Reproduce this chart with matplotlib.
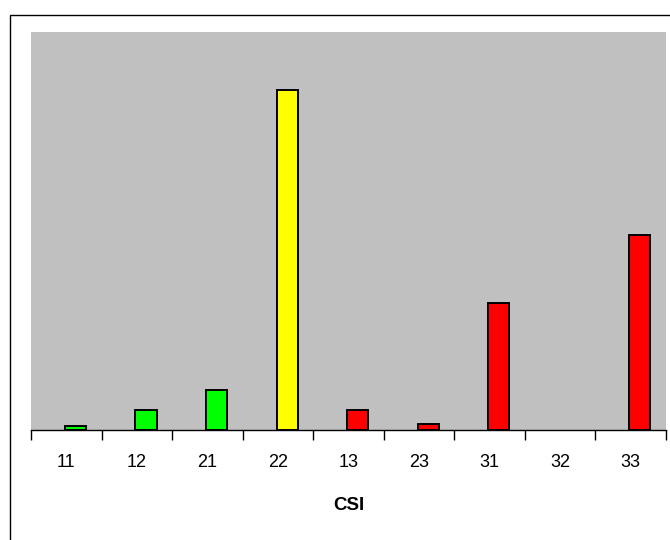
import numpy as np
import matplotlib
matplotlib.use("Agg")
import matplotlib.pyplot as plt
from matplotlib.patches import Rectangle

categories = ["11", "12", "21", "22", "13", "23", "31", "32", "33"]
values = [1, 5, 10, 85.5, 5, 1.5, 32, 0, 49]
colors = ["#00FF00", "#00FF00", "#00FF00", "#FFFF00",
          "#FF0000", "#FF0000", "#FF0000", "#FF0000", "#FF0000"]

plt.rcParams["font.family"] = ["Liberation Sans", "DejaVu Sans"]

fig = plt.figure(figsize=(6.7, 5.4), dpi=100)
ax = fig.add_axes([31 / 670, 110 / 540, 635 / 670, 398 / 540])
ax.set_facecolor("#C0C0C0")

x = np.arange(len(categories))
# bars sit a little right of the category centre (Excel-style cluster offset)
edges = ["black" if v > 0 else "none" for v in values]
ax.bar(x + 0.13, values, width=0.3, color=colors, edgecolor=edges,
       linewidth=1.4, zorder=3)

ax.set_xlim(-0.5, len(categories) - 0.5)
ax.set_ylim(0, 100)
ax.set_yticks([])
ax.set_xticks(x)
ax.set_xticklabels(categories, fontsize=13)
ax.set_xticks(np.arange(-0.5, len(categories)), minor=True)
ax.tick_params(axis="x", which="major", length=0, pad=17)
ax.tick_params(axis="x", which="minor", length=7, width=1, color="black")
for s in ["top", "right", "left"]:
    ax.spines[s].set_visible(False)
ax.spines["bottom"].set_linewidth(1)
ax.set_xlabel("CSI", fontsize=13.5, fontweight="bold", labelpad=19)

# outer chart border (runs off the right and bottom edges)
fig.patches.append(Rectangle((10 / 670, -0.1), 1.2, 1.1 - 15 / 540,
                             transform=fig.transFigure, fill=False,
                             edgecolor="black", linewidth=1, clip_on=False))

fig.savefig("out.png", dpi=100)
